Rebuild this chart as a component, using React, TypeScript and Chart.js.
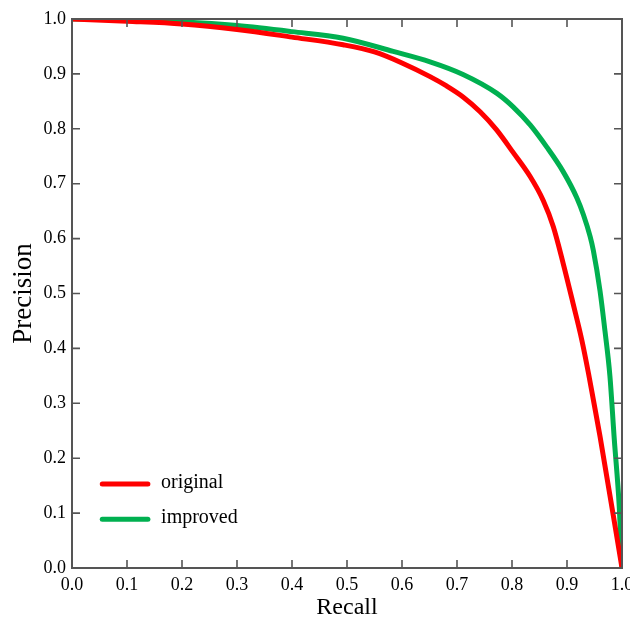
import React, { useEffect, useRef } from "react";
import { Chart, registerables } from "chart.js";

Chart.register(...registerables);

const seriesNames = ["original", "improved"];
const seriesColors = ["#ff0000", "#00b050"];

const recallOriginal = [0, 0.1, 0.2, 0.3, 0.4, 0.493, 0.55, 0.6, 0.651, 0.681, 0.711, 0.742, 0.772, 0.802, 0.833, 0.857, 0.875, 0.893, 0.911, 0.927, 0.939, 0.948, 0.96, 1.0];
const precisionOriginal = [1.0, 0.996, 0.991, 0.981, 0.967, 0.953, 0.94, 0.92, 0.895, 0.878, 0.858, 0.831, 0.798, 0.757, 0.713, 0.669, 0.622, 0.555, 0.482, 0.415, 0.355, 0.306, 0.24, 0.0];

const recallImproved = [0, 0.1, 0.2, 0.3, 0.4, 0.493, 0.584, 0.651, 0.711, 0.772, 0.802, 0.833, 0.863, 0.893, 0.918, 0.93, 0.942, 0.948, 0.96, 0.969, 0.978, 0.986, 0.995, 1.0];
const precisionImproved = [1.0, 0.999, 0.995, 0.988, 0.977, 0.965, 0.941, 0.922, 0.899, 0.865, 0.84, 0.807, 0.767, 0.722, 0.674, 0.643, 0.604, 0.578, 0.505, 0.432, 0.35, 0.234, 0.112, 0.0];

const tickValues = [0, 0.1, 0.2, 0.3, 0.4, 0.5, 0.6, 0.7, 0.8, 0.9, 1.0];
const xTitle = "Recall";
const yTitle = "Precision";

const FONT = "'Liberation Serif', 'Times New Roman', serif";
const AXIS_COLOR = "#555555";

const framePlugin = {
  id: "frameTicks",
  afterDatasetsDraw(chart: any) {
    const { ctx, chartArea, scales } = chart;
    const { left, right, top, bottom } = chartArea;
    ctx.save();
    ctx.strokeStyle = AXIS_COLOR;
    ctx.lineWidth = 1.6;
    const tl = 8;
    tickValues.forEach((v) => {
      const px = scales.x.getPixelForValue(v);
      const py = scales.y.getPixelForValue(v);
      ctx.beginPath();
      ctx.moveTo(px, bottom);
      ctx.lineTo(px, bottom - tl);
      ctx.moveTo(px, top);
      ctx.lineTo(px, top + tl);
      ctx.moveTo(left, py);
      ctx.lineTo(left + tl, py);
      ctx.moveTo(right, py);
      ctx.lineTo(right - tl, py);
      ctx.stroke();
    });
    ctx.lineWidth = 2;
    ctx.strokeRect(left, top, right - left, bottom - top);
    ctx.restore();
  },
  afterDraw(chart: any) {
    const { ctx, scales } = chart;
    ctx.save();
    const x0 = scales.x.getPixelForValue(0.055);
    const x1 = scales.x.getPixelForValue(0.138);
    const xt = scales.x.getPixelForValue(0.162);
    const ys = [scales.y.getPixelForValue(0.153), scales.y.getPixelForValue(0.089)];
    chart.data.datasets.forEach((ds: any, i: number) => {
      ctx.strokeStyle = ds.borderColor;
      ctx.lineWidth = 5;
      ctx.lineCap = "round";
      ctx.beginPath();
      ctx.moveTo(x0, ys[i]);
      ctx.lineTo(x1, ys[i]);
      ctx.stroke();
      ctx.fillStyle = "#000";
      ctx.font = `20px ${FONT}`;
      ctx.textBaseline = "middle";
      ctx.textAlign = "left";
      ctx.fillText(ds.label, xt, ys[i] - 1);
    });
    ctx.restore();
  },
};

export default function App() {
  const ref = useRef<HTMLCanvasElement | null>(null);
  useEffect(() => {
    if (!ref.current) return;
    const mk = (xs: number[], ys: number[]) => xs.map((x, i) => ({ x, y: ys[i] }));
    const chart = new Chart(ref.current, {
      type: "scatter",
      data: {
        datasets: [
          {
            label: seriesNames[0],
            data: mk(recallOriginal, precisionOriginal),
            borderColor: seriesColors[0],
            backgroundColor: seriesColors[0],
            borderWidth: 5,
            showLine: true,
            pointRadius: 0,
            cubicInterpolationMode: "monotone",
          },
          {
            label: seriesNames[1],
            data: mk(recallImproved, precisionImproved),
            borderColor: seriesColors[1],
            backgroundColor: seriesColors[1],
            borderWidth: 5,
            showLine: true,
            pointRadius: 0,
            cubicInterpolationMode: "monotone",
          },
        ],
      },
      options: {
        responsive: false,
        animation: false,
        layout: { padding: { top: 19, right: 8, left: 0, bottom: 0 } },
        plugins: { legend: { display: false }, tooltip: { enabled: false } },
        scales: {
          x: {
            type: "linear",
            min: 0,
            max: 1,
            grid: { display: false, drawTicks: false },
            border: { display: false },
            ticks: {
              stepSize: 0.1,
              padding: 6,
              color: "#000",
              font: { family: FONT, size: 18 },
              callback: (v: any) => Number(v).toFixed(1),
              maxRotation: 0,
              autoSkip: false,
            },
            title: {
              display: true,
              text: xTitle,
              color: "#000",
              font: { family: FONT, size: 24, lineHeight: 1 },
              padding: { top: 0, bottom: 0 },
            },
            afterFit: (s: any) => {
              s.height = 52;
              s.paddingLeft = 0;
              s.paddingRight = 0;
            },
          },
          y: {
            type: "linear",
            min: 0,
            max: 1,
            grid: { display: false, drawTicks: false },
            border: { display: false },
            ticks: {
              stepSize: 0.1,
              padding: 6,
              color: "#000",
              font: { family: FONT, size: 18 },
              callback: (v: any) => Number(v).toFixed(1),
              autoSkip: false,
            },
            title: {
              display: true,
              text: yTitle,
              color: "#000",
              font: { family: FONT, size: 27, lineHeight: 1.2 },
              padding: { top: 8, bottom: 0 },
            },
            afterFit: (s: any) => {
              s.width = 72;
              s.paddingTop = 0;
              s.paddingBottom = 0;
            },
          },
        },
      },
      plugins: [framePlugin],
    } as any);
    return () => chart.destroy();
  }, []);
  return (
    <div style={{ position: "fixed", left: 0, top: 0, width: 630, height: 620, background: "#fff" }}>
      <canvas ref={ref} width={630} height={620} />
    </div>
  );
}
